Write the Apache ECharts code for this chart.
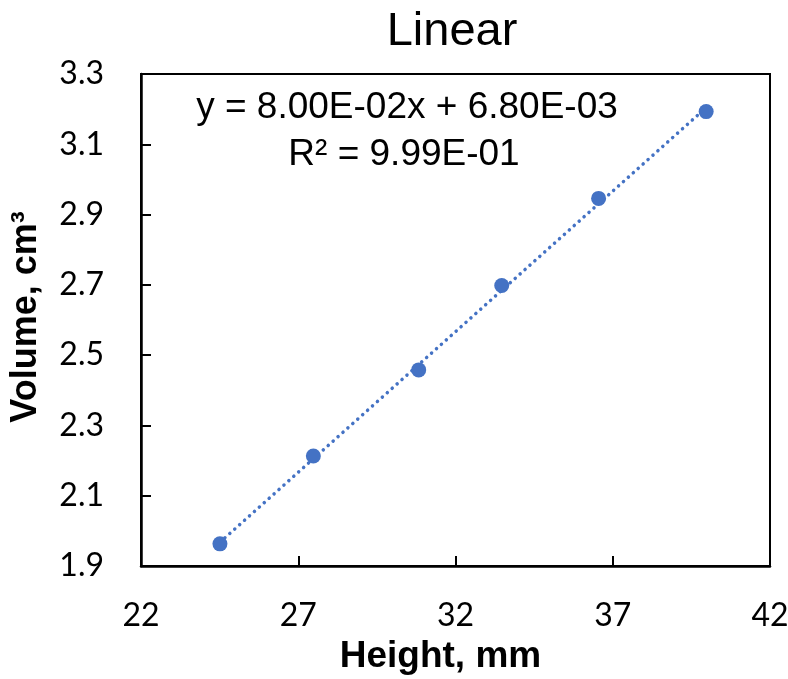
<!DOCTYPE html>
<html>
<head>
<meta charset="utf-8">
<script src="https://cdn.jsdelivr.net/npm/echarts@6/dist/echarts.min.js"></script>
<style>
  html, body { margin: 0; padding: 0; background: #fff; }
  #chart { width: 788px; height: 679px; }
</style>
</head>
<body>
<div id="chart"></div>
<script>
// data
const heights = [24.51, 27.48, 30.83, 33.47, 36.55, 39.97];
const volumes = [1.963, 2.213, 2.458, 2.698, 2.946, 3.193];

// axis ticks
const xTicks = [22, 27, 32, 37, 42];
const yTicks = [1.9, 2.1, 2.3, 2.5, 2.7, 2.9, 3.1, 3.3];

// trendline as printed on the chart
const slope = 0.08;
const intercept = 0.0068;
const eqText = 'y = 8.00E-02x + 6.80E-03';
const r2Text = 'R² = 9.99E-01';

const blue = '#4472C4';
const labelFont = 'Lato, "Open Sans", sans-serif';
const arial = '"Liberation Sans", Arial, sans-serif';

const points = heights.map((h, i) => [h, volumes[i]]);
const xLo = Math.min(...heights);
const xHi = Math.max(...heights);
const trend = [[xLo, slope * xLo + intercept], [xHi, slope * xHi + intercept]];

const chart = echarts.init(document.getElementById('chart'));
chart.setOption({
  animation: false,
  backgroundColor: '#fff',
  title: {
    text: 'Linear',
    left: 447,
    top: 4,
    textAlign: 'center',
    textStyle: { fontFamily: arial, fontSize: 47, fontWeight: 'normal', color: '#000' }
  },
  grid: {
    left: 141, right: 18, top: 74, bottom: 113,
    outerBoundsMode: 'none',
    containLabel: false,
    show: true, borderColor: '#000', borderWidth: 2
  },
  xAxis: {
    type: 'value',
    min: xTicks[0],
    max: xTicks[xTicks.length - 1],
    name: 'Height, mm',
    nameLocation: 'middle',
    nameGap: 72,
    nameTextStyle: { fontFamily: arial, fontSize: 37, fontWeight: 'bold', color: '#000', padding: [0, 30, 0, 0] },
    axisLine: { lineStyle: { color: '#000', width: 2.5 } },
    axisTick: { inside: true, length: 10, lineStyle: { color: '#000', width: 2 }, customValues: xTicks.slice(1, -1) },
    axisLabel: { margin: 34, fontFamily: labelFont, fontSize: 32, color: '#000', customValues: xTicks, formatter: v => String(Math.round(v)) },
    splitLine: { show: false }
  },
  yAxis: {
    type: 'value',
    min: yTicks[0],
    max: yTicks[yTicks.length - 1],
    name: 'Volume, cm³',
    nameLocation: 'middle',
    nameGap: 97,
    nameTextStyle: { fontFamily: arial, fontSize: 36, fontWeight: 'bold', color: '#000', padding: [0, 0, 0, 6] },
    axisLine: { lineStyle: { color: '#000', width: 2.5 } },
    axisTick: { inside: true, length: 10, lineStyle: { color: '#000', width: 2 }, customValues: yTicks.slice(1, -1) },
    axisLabel: { margin: 37, fontFamily: labelFont, fontSize: 32, color: '#000', customValues: yTicks, formatter: v => v.toFixed(1) },
    splitLine: { show: false }
  },
  graphic: [
    { type: 'text', x: 407, y: 108, style: { text: eqText, fill: '#000', font: '37px ' + arial, textAlign: 'center', textVerticalAlign: 'middle' } },
    { type: 'text', x: 404, y: 155, style: { text: r2Text, fill: '#000', font: '37px ' + arial, textAlign: 'center', textVerticalAlign: 'middle' } }
  ],
  series: [
    {
      type: 'line',
      data: trend,
      symbol: 'none',
      silent: true,
      lineStyle: { color: blue, width: 3.5, type: [0.1, 6.5], cap: 'round' },
      z: 2
    },
    {
      type: 'scatter',
      data: points,
      symbolSize: 15,
      itemStyle: { color: blue, opacity: 1 },
      z: 3
    }
  ]
});
</script>
</body>
</html>
